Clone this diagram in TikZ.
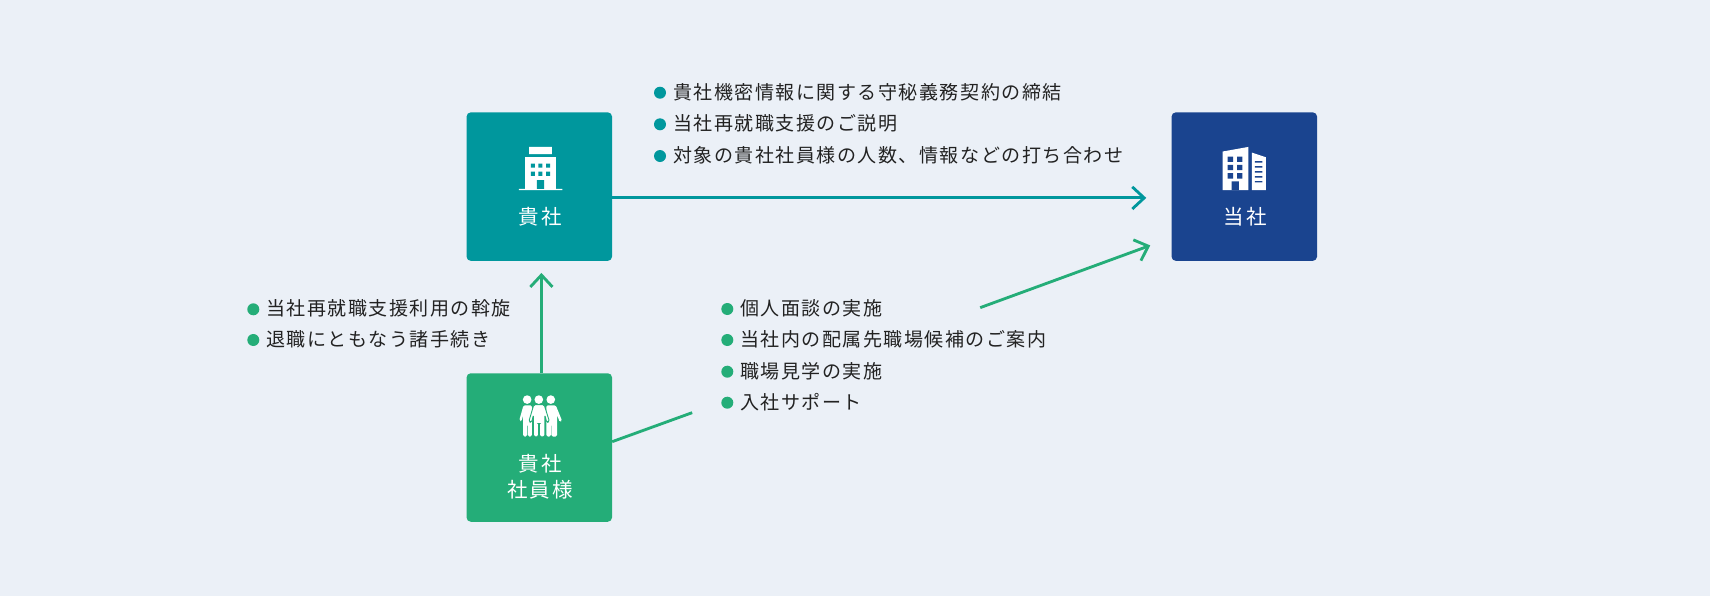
\documentclass[tikz,border=0pt]{standalone}
\usepackage{fontspec}
\usepackage{xcolor}
\usetikzlibrary{arrows.meta, calc}
\setmainfont{Noto Sans CJK JP}
\definecolor{pagebg}{RGB}{235,240,247}
\definecolor{kteal}{RGB}{0,151,157}
\definecolor{kgreen}{RGB}{36,173,120}
\definecolor{knavy}{RGB}{26,68,143}
\definecolor{ktext}{RGB}{34,34,34}

\begin{document}
\begin{tikzpicture}[
  scale=1.1759,
  >={Straight Barb[length=1.4mm,width=2.6mm]},
  every node/.style={inner sep=0pt, outer sep=0pt, transform shape},
  box/.style={minimum width=1.455cm, minimum height=1.485cm, rounded corners=0.05cm},
  boxlabel/.style={text=white, align=center, font=\fontsize{5.83}{7.4}\selectfont\addfontfeature{LetterSpace=10}},
  dot/.style={circle, minimum size=0.12cm},
  entry/.style={anchor=west, text=ktext, font=\fontsize{5.41}{6.5}\selectfont\addfontfeature{LetterSpace=8}},
  link/.style={line width=0.95pt},
  icon/.style={x=0.003333cm, y=-0.003333cm}
]
% Background fixes the page size
\useasboundingbox (0, 0.015) rectangle (17.10, 5.97);
\fill[pagebg] (0, 0) rectangle (17.10, 5.97);

% Boxes
\node[box, fill=kteal] (kisha) at (5.393, 4.104) {};
\node[box, fill=knavy] (tosha) at (12.443, 4.104) {};
\node[box, fill=kgreen] (staff) at (5.393, 1.495) {};
\node[boxlabel] (kishaname) at (5.40, 3.80) {貴社};
\node[boxlabel] (toshaname) at (12.45, 3.80) {当社};
\node[boxlabel] (staffname) at (5.40, 1.205) {貴社\\社員様};

% Building icon, client
\begin{scope}[shift={(4.50, 4.97)}, icon]
  \fill[white] (238,141) rectangle (306,163) (226,172) rectangle (318,268) (207,267) rectangle (338,271);
  \fill[kteal] (243,191) rectangle (255,203) (266,191) rectangle (278,203) (289,191) rectangle (301,203)
    (243,215) rectangle (255,228) (266,215) rectangle (278,228) (289,215) rectangle (301,228)
    (261,241) rectangle (283,267);
\end{scope}

% Building icon, own company
\begin{scope}[shift={(11.50, 4.97)}, icon]
  \fill[white] (218,155) -- (296,141) -- (296,271) -- (218,271) -- cycle
    (306,158) -- (348,172) -- (348,271) -- (306,271) -- cycle;
  \fill[knavy] (233,170) rectangle (250,186) (262,170) rectangle (278,186)
    (233,195) rectangle (250,211) (262,195) rectangle (278,211)
    (233,220) rectangle (250,236) (262,220) rectangle (278,236)
    (245,245) rectangle (267,271);
  \fill[knavy] (315,184) rectangle (338,188) (315,199) rectangle (338,203) (315,214) rectangle (338,218)
    (315,229) rectangle (338,233) (315,244) rectangle (338,248);
\end{scope}

% People icon
\begin{scope}[shift={(4.50, 2.32)}, icon]
  \fill[white] (232,104) circle[radius=13] (303,104) circle[radius=13] (267,104) circle[radius=13];
  \fill[white, rounded corners=0.5pt] (221,121) -- (246,121) -- (246,215) -- (234,215) -- (234,178) -- (232,178) -- (232,215) -- (220,215)
    -- (220,150) -- (215,170) -- (208,167) -- cycle;
  \fill[white, rounded corners=0.5pt] (318,121) -- (290,121) -- (290,215) -- (303,215) -- (303,178) -- (305,178) -- (305,215) -- (322,215)
    -- (322,150) -- (330,172) -- (337,168) -- cycle;
  \filldraw[white, draw=kgreen, line width=0.3pt, rounded corners=0.5pt] (252,119) -- (283,119) -- (299,170) -- (291,173) -- (285,150) -- (285,216)
    -- (269,216) -- (269,176) -- (266,176) -- (266,216) -- (251,216) -- (251,150) -- (245,173) -- (237,170) -- cycle;
\end{scope}

% Top list
\node[dot, fill=kteal] (topa) at (6.60, 5.043) {};
\node[dot, fill=kteal] (topb) at (6.60, 4.727) {};
\node[dot, fill=kteal] (topc) at (6.60, 4.41) {};
\node[entry] (topatext) at (6.73, 5.05) {貴社機密情報に関する守秘義務契約の締結};
\node[entry] (topbtext) at (6.73, 4.735) {当社再就職支援のご説明};
\node[entry] (topctext) at (6.73, 4.42) {対象の貴社社員様の人数、情報などの打ち合わせ};

% Left list
\node[dot, fill=kgreen] (lefta) at (2.533, 2.877) {};
\node[dot, fill=kgreen] (leftb) at (2.533, 2.57) {};
\node[entry] (leftatext) at (2.66, 2.885) {当社再就職支援利用の斡旋};
\node[entry] (leftbtext) at (2.66, 2.58) {退職にともなう諸手続き};

% Right list
\node[dot, fill=kgreen] (righta) at (7.273, 2.88) {};
\node[dot, fill=kgreen] (rightb) at (7.273, 2.57) {};
\node[dot, fill=kgreen] (rightc) at (7.273, 2.253) {};
\node[dot, fill=kgreen] (rightd) at (7.273, 1.943) {};
\node[entry] (rightatext) at (7.40, 2.885) {個人面談の実施};
\node[entry] (rightbtext) at (7.40, 2.575) {当社内の配属先職場候補のご案内};
\node[entry] (rightctext) at (7.40, 2.26) {職場見学の実施};
\node[entry] (rightdtext) at (7.40, 1.95) {入社サポート};

% Connectors
\coordinate (toptip) at (11.46, 3.99);
\coordinate (uptip) at (5.413, 3.24);
\coordinate (gapstart) at (6.92, 1.843);
\coordinate (gapend) at (9.80, 2.893);
\coordinate (sidetip) at (11.50, 3.515);
\draw[->, link, kteal] (kisha.east |- toptip) -- (toptip);
\draw[->, link, kgreen] (staff.north -| uptip) -- (uptip);
\draw[link, kgreen] ([yshift=0.058cm]staff.east) -- (gapstart);
\draw[->, link, kgreen] (gapend) -- (sidetip);
\end{tikzpicture}
\end{document}
